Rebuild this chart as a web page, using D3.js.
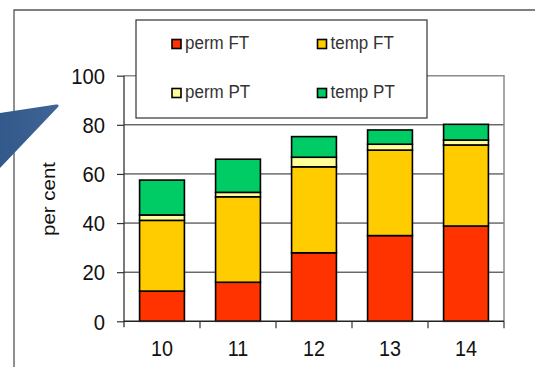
<!DOCTYPE html>
<html>
<head>
<meta charset="utf-8">
<script src="https://cdn.jsdelivr.net/npm/d3@7"></script>
<style>
  html, body { margin: 0; padding: 0; background: #fff; }
  svg { display: block; font-family: Arial, "Liberation Sans", sans-serif; }
</style>
</head>
<body>
<svg id="chart" width="535" height="367"></svg>
<script>
// Employment type shares by year, stacked to total
const categories = ["10", "11", "12", "13", "14"];
const permFT = [12.3, 15.9, 27.9, 34.9, 38.8];
const tempFT = [28.8, 34.8, 35.0, 34.8, 33.0];
const permPT = [2.2, 1.8, 3.9, 2.4, 2.0];
const tempPT = [14.2, 13.5, 8.4, 5.8, 6.4];
const seriesNames = ["perm FT", "temp FT", "perm PT", "temp PT"];
const seriesColors = ["#ff3300", "#ffcc00", "#ffff99", "#00cc66"];
const yTicks = [0, 20, 40, 60, 80, 100];
const yTitle = "per cent";

const rows = categories.map((c, i) => ({
  cat: c,
  "perm FT": permFT[i],
  "temp FT": tempFT[i],
  "perm PT": permPT[i],
  "temp PT": tempPT[i]
}));

const svg = d3.select("#chart");
const SX = 0.92; // horizontal squeeze of the lettering

const plot = { left: 124, right: 504, top: 75.7, bottom: 321.3 };

const x = d3.scaleBand()
  .domain(categories)
  .range([plot.left, plot.right])
  .paddingInner(0.41)
  .paddingOuter(0.205);

const y = d3.scaleLinear().domain([0, 100]).range([plot.bottom, plot.top]);

// outer slide frame
svg.append("path")
  .attr("d", `M14,367 V10 H535`)
  .attr("fill", "none")
  .attr("stroke", "#555")
  .attr("stroke-width", 1.3);

// horizontal gridlines
svg.append("g")
  .selectAll("line")
  .data(yTicks.filter(t => t > 0 && t < 100))
  .join("line")
  .attr("x1", plot.left).attr("x2", plot.right)
  .attr("y1", d => y(d)).attr("y2", d => y(d))
  .attr("stroke", "#222")
  .attr("stroke-width", 1);

// plot area border (top and right)
svg.append("path")
  .attr("d", `M${plot.left},${y(100)} H${plot.right} V${plot.bottom}`)
  .attr("fill", "none")
  .attr("stroke", "#8c8c8c")
  .attr("stroke-width", 1.5);

// stacked bars
const stack = d3.stack().keys(seriesNames);
const layers = stack(rows);
const color = d3.scaleOrdinal().domain(seriesNames).range(seriesColors);

svg.append("g")
  .selectAll("g")
  .data(layers)
  .join("g")
  .attr("fill", d => color(d.key))
  .selectAll("rect")
  .data(d => d)
  .join("rect")
  .attr("x", d => x(d.data.cat))
  .attr("width", x.bandwidth())
  .attr("y", d => y(d[1]))
  .attr("height", d => y(d[0]) - y(d[1]))
  .attr("stroke", "#000")
  .attr("stroke-width", 1.6);

// y axis
const yAxis = svg.append("g")
  .attr("transform", `translate(${plot.left},0)`)
  .call(d3.axisLeft(y).tickValues(yTicks).tickSize(7).tickPadding(5));
yAxis.select(".domain").remove();
yAxis.selectAll(".tick line").attr("stroke", "#333").attr("stroke-width", 1.2);
yAxis.selectAll(".tick text")
  .attr("fill", "#111")
  .attr("font-size", 22)
  .attr("x", null)
  .attr("dy", null)
  .attr("dominant-baseline", "central")
  .attr("transform", `translate(-19,0) scale(${SX},1)`);

svg.append("line")
  .attr("x1", plot.left).attr("x2", plot.left)
  .attr("y1", y(100)).attr("y2", plot.bottom + 6)
  .attr("stroke", "#333").attr("stroke-width", 1.3);

// x axis: baseline, boundary ticks, labels
svg.append("line")
  .attr("x1", plot.left).attr("x2", plot.right)
  .attr("y1", plot.bottom).attr("y2", plot.bottom)
  .attr("stroke", "#222").attr("stroke-width", 1.4);

const step = x.step();
const bounds = categories.map(c => x(c) - step * x.paddingInner() / 2)
  .concat([x(categories[categories.length - 1]) + x.bandwidth() + step * x.paddingInner() / 2]);
svg.append("g")
  .selectAll("line")
  .data(bounds.slice(1))
  .join("line")
  .attr("x1", d => d).attr("x2", d => d)
  .attr("y1", plot.bottom).attr("y2", plot.bottom + 7)
  .attr("stroke", "#333").attr("stroke-width", 1.2);

svg.append("g")
  .selectAll("text")
  .data(categories)
  .join("text")
  .attr("transform", d => `translate(${x(d) + x.bandwidth() / 2},${plot.bottom + 27}) scale(${SX},1)`)
  .attr("text-anchor", "middle")
  .attr("dominant-baseline", "central")
  .attr("font-size", 21.5)
  .attr("fill", "#111")
  .text(d => d);

// y axis title
svg.append("text")
  .attr("transform", `translate(48.5,199) rotate(-90) scale(1,${SX})`)
  .attr("text-anchor", "middle")
  .attr("dominant-baseline", "central")
  .attr("font-size", 20.5)
  .attr("fill", "#111")
  .text(yTitle);

// legend
const legend = svg.append("g");
legend.append("rect")
  .attr("x", 136).attr("y", 20)
  .attr("width", 291).attr("height", 98)
  .attr("fill", "#fff")
  .attr("stroke", "#333")
  .attr("stroke-width", 1.2);

const legendPos = [
  { sx: 172, cy: 44 },
  { sx: 317.5, cy: 44 },
  { sx: 172, cy: 93 },
  { sx: 317.5, cy: 93 }
];
const items = legend.selectAll("g.item")
  .data(seriesNames)
  .join("g")
  .attr("class", "item")
  .attr("transform", (d, i) => `translate(${legendPos[i].sx},${legendPos[i].cy})`);
items.append("rect")
  .attr("x", 0).attr("y", -4.5)
  .attr("width", 9).attr("height", 9)
  .attr("fill", d => color(d))
  .attr("stroke", "#000")
  .attr("stroke-width", 1.6);
items.append("text")
  .attr("transform", `translate(13,-1) scale(${SX},1)`)
  .attr("dominant-baseline", "central")
  .attr("font-size", 18.5)
  .attr("fill", "#333")
  .text(d => d);

// pointer arrow overlapping the frame
const defs = svg.append("defs");
const grad = defs.append("linearGradient")
  .attr("id", "arrowFill")
  .attr("x1", "0").attr("y1", "0").attr("x2", "1").attr("y2", "0");
grad.append("stop").attr("offset", "0").attr("stop-color", "#33598a");
grad.append("stop").attr("offset", "1").attr("stop-color", "#3f6596");
svg.append("path")
  .attr("d", "M0,113 L56,104.5 Q60,104 58,107 L0,168 Z")
  .attr("fill", "url(#arrowFill)");
</script>
</body>
</html>
